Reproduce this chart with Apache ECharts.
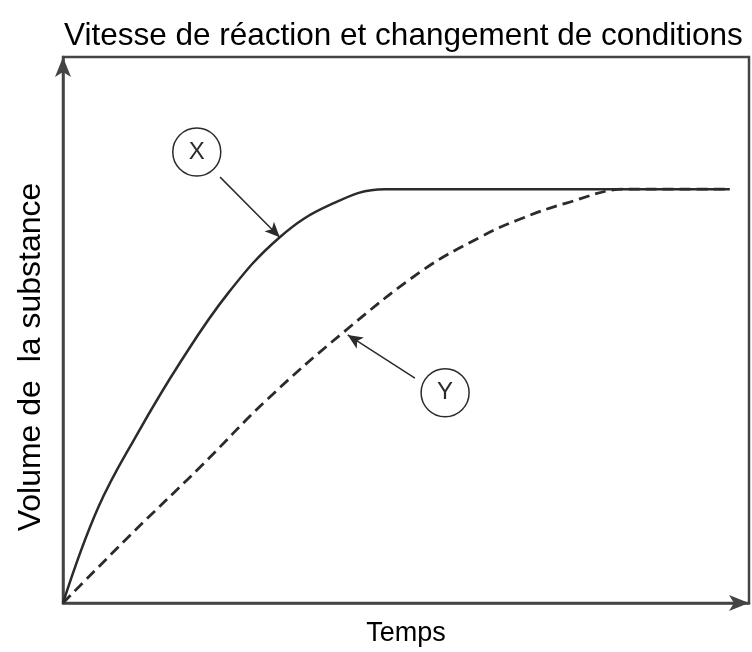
<!DOCTYPE html>
<html lang="fr">
<head>
    <meta charset="UTF-8">
    <title>Vitesse de réaction</title>
    <script src="https://cdn.jsdelivr.net/npm/echarts@6/dist/echarts.min.js"></script>
    <style>
        html, body {margin: 0; padding: 0; background: #fff;}
        #main {width: 752px; height: 652px;}
    </style>
</head>
<body>
<div id="main"></div>
<script>
    // courbe X (trait plein) : [temps, volume]
    var courbeX = [
        [0, 0], [5.1, 17.4], [10.8, 30.9], [17.1, 44.1], [24.1, 56.8],
        [31.6, 67.0], [38.9, 72.9], [46.9, 75.8], [60, 75.8], [97.2, 75.8]
    ];
    // courbe Y (pointillés)
    var courbeY = [
        [0, 0], [10.1, 12.8], [20.0, 24.9], [29.7, 37.2], [40.8, 49.5],
        [52.5, 61.0], [60.8, 67.0], [66.2, 70.1], [73.5, 73.3],
        [82.2, 75.8], [90, 75.8], [97.2, 75.8]
    ];
    // étiquettes entourées et leurs flèches
    var bulleX = [19.5, 82.6];
    var bulleY = [55.7, 38.5];
    var flecheX = [[22.9, 78.0], [31.6, 67.0]];
    var flecheY = [[51.3, 41.2], [41.5, 49.1]];

    var couleur = '#2b2b2b';
    var police = 'Liberation Sans, Arial, sans-serif';

    var myChart = echarts.init(document.getElementById('main'));

    function bulle(nom, pos) {
        return {
            coord: pos,
            symbol: 'circle',
            symbolSize: 48,
            itemStyle: {color: '#fff', borderColor: couleur, borderWidth: 1.5},
            label: {show: true, formatter: nom, color: couleur, fontSize: 24, fontFamily: police}
        };
    }

    function fleche(pts) {
        return [{coord: pts[0]}, {coord: pts[1]}];
    }

    var option = {
        animation: false,
        title: {
            text: 'Vitesse de réaction et changement de conditions',
            left: 59,
            top: 15,
            textStyle: {fontSize: 31.5, fontWeight: 'normal', color: '#000', fontFamily: police}
        },
        grid: {
            left: 63, right: 3, top: 57, bottom: 49,
            show: true, borderColor: '#444', borderWidth: 2.5, backgroundColor: 'transparent'
        },
        xAxis: {
            type: 'value', min: 0, max: 100,
            name: 'Temps', nameLocation: 'middle', nameGap: 17,
            nameTextStyle: {fontSize: 27, color: '#000', fontFamily: police},
            axisLine: {
                show: true, symbol: ['none', 'arrow'], symbolSize: [12, 20],
                lineStyle: {color: '#444', width: 2.5}
            },
            axisTick: {show: false}, axisLabel: {show: false}, splitLine: {show: false}
        },
        yAxis: {
            type: 'value', min: 0, max: 100,
            name: 'Volume de  la substance', nameLocation: 'middle', nameGap: 16,
            nameTextStyle: {fontSize: 32, color: '#000', fontFamily: police, padding: [0, 54, 0, 0]},
            axisLine: {
                show: true, symbol: ['none', 'arrow'], symbolSize: [12, 20],
                lineStyle: {color: '#444', width: 2.5}
            },
            axisTick: {show: false}, axisLabel: {show: false}, splitLine: {show: false}
        },
        series: [
            {
                name: 'X', type: 'line', data: courbeX, showSymbol: false,
                smooth: 0.4,
                lineStyle: {color: couleur, width: 2.5},
                markPoint: {silent: true, data: [bulle('X', bulleX)]},
                markLine: {
                    silent: true, symbol: ['none', 'arrow'], symbolSize: [10, 15],
                    lineStyle: {color: couleur, width: 1.5, type: 'solid'},
                    label: {show: false},
                    data: [fleche(flecheX)]
                }
            },
            {
                name: 'Y', type: 'line', data: courbeY, showSymbol: false,
                smooth: 0.4,
                lineStyle: {color: couleur, width: 2.8, type: [11, 6]},
                markPoint: {silent: true, data: [bulle('Y', bulleY)]},
                markLine: {
                    silent: true, symbol: ['none', 'arrow'], symbolSize: [10, 15],
                    lineStyle: {color: couleur, width: 1.5, type: 'solid'},
                    label: {show: false},
                    data: [fleche(flecheY)]
                }
            }
        ]
    };

    myChart.setOption(option);
</script>
</body>
</html>
